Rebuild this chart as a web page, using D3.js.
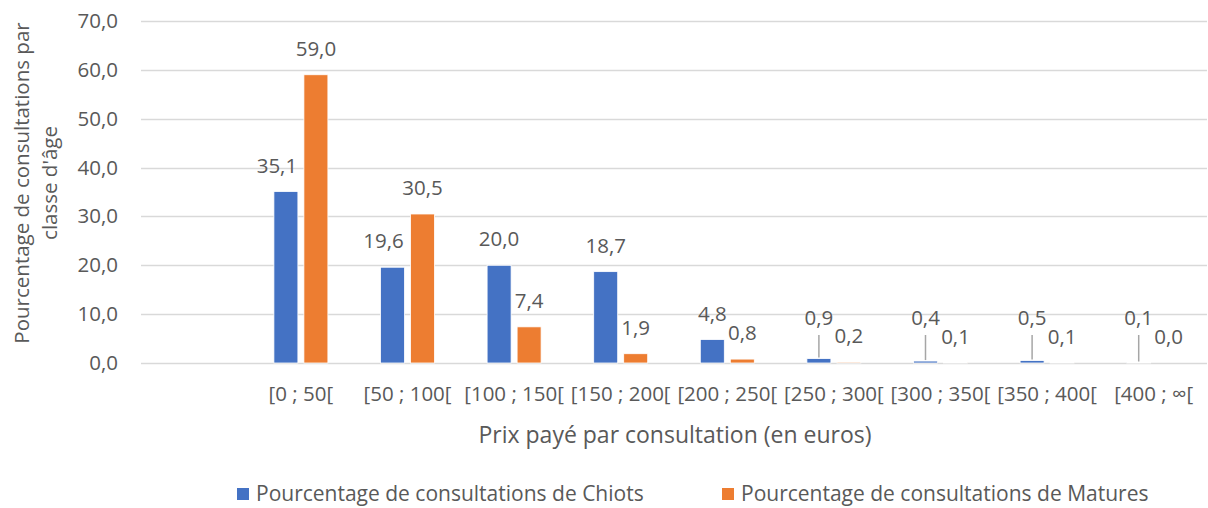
<!DOCTYPE html>
<html>
<head>
<meta charset="utf-8">
<script src="https://cdn.jsdelivr.net/npm/d3@7"></script>
<style>
  html, body { margin: 0; padding: 0; background: #fff; }
  svg text { font-family: "Open Sans", "Noto Sans", sans-serif; fill: #595959; }
</style>
</head>
<body>
<svg id="chart" width="1208" height="508"></svg>
<script>
const categories = ["", "[0 ; 50[", "[50 ; 100[", "[100 ; 150[", "[150 ; 200[", "[200 ; 250[", "[250 ; 300[", "[300 ; 350[", "[350 ; 400[", "[400 ; \u221E["];
const chiots  = [null, 35.1, 19.6, 20.0, 18.7, 4.8, 0.9, 0.4, 0.5, 0.1];
const matures = [null, 59.0, 30.5, 7.4, 1.9, 0.8, 0.2, 0.1, 0.1, 0.0];
const seriesNames = ["Pourcentage de consultations de Chiots", "Pourcentage de consultations de Matures"];
const yTicks = [0, 10, 20, 30, 40, 50, 60, 70];
const colors = ["#4472C4", "#ED7D31"];

const svg = d3.select("#chart");
const fmt = v => d3.format(".1f")(v).replace(".", ",");

const x = d3.scaleBand().domain(categories.map((c, i) => i)).range([141, 1207]).padding(0);
const y = d3.scaleLinear().domain([0, 70]).range([363, 21]);

// gridlines
svg.append("g").selectAll("line").data(yTicks).join("line")
  .attr("x1", 141).attr("x2", 1207)
  .attr("y1", d => Math.round(y(d)) + 0.5).attr("y2", d => Math.round(y(d)) + 0.5)
  .attr("stroke", "#d9d9d9").attr("stroke-width", 1.3);

// y tick labels
svg.append("g").selectAll("text").data(yTicks).join("text")
  .attr("x", 118).attr("y", d => y(d) + 7)
  .attr("text-anchor", "end").attr("font-size", 20.5)
  .text(d => fmt(d));

// category labels
svg.append("g").selectAll("text").data(categories).join("text")
  .attr("x", (d, i) => x(i) + x.bandwidth() / 2).attr("y", 401)
  .attr("text-anchor", "middle").attr("font-size", 20.5)
  .text(d => d);

const series = [chiots, matures];
const groupW = 54;
series.forEach((vals, s) => {
  const pts = vals.map((v, i) => ({ v, i })).filter(d => d.v !== null);
  const xs = d => {
    const cx = x(d.i) + x.bandwidth() / 2;
    const x1 = d3.scaleBand().domain([0, 1]).range([cx - groupW / 2, cx + groupW / 2]).paddingInner(0.2);
    return x1(s);
  };
  const bw = d3.scaleBand().domain([0, 1]).range([0, groupW]).paddingInner(0.2).bandwidth();
  svg.append("g").selectAll("rect").data(pts).join("rect")
    .attr("x", xs).attr("width", bw)
    .attr("y", d => y(d.v)).attr("height", d => y(0) - y(d.v))
    .attr("fill", colors[s]).attr("stroke", "#fff").attr("stroke-width", 0.8);

  const labelY = d => {
    const natural = y(d.v) - 26;
    return s === 0 ? Math.min(natural, y(0) - 45) : natural;
  };
  // chiot labels next to a taller mature bar are nudged left
  const labelX = d => {
    let cx = xs(d) + bw / 2;
    if (s === 0 && matures[d.i] !== null && y(matures[d.i]) < labelY(d) + 8) cx -= 9;
    return cx;
  };
  // leader lines for moved labels
  svg.append("g").selectAll("line").data(pts.filter(d => s === 0 && labelY(d) < y(d.v) - 27)).join("line")
    .attr("x1", d => xs(d) + bw / 2).attr("x2", d => xs(d) + bw / 2)
    .attr("y1", d => labelY(d) + 17).attr("y2", d => y(d.v) - 1)
    .attr("stroke", "#a6a6a6").attr("stroke-width", 1.5);

  svg.append("g").selectAll("text").data(pts).join("text")
    .attr("x", labelX).attr("y", d => labelY(d) + 7)
    .attr("text-anchor", "middle").attr("font-size", 20.5)
    .text(d => fmt(d.v));
});

// axis titles
svg.append("text").attr("x", 675).attr("y", 443).attr("text-anchor", "middle")
  .attr("font-size", 23).text("Prix payé par consultation (en euros)");
const yt = svg.append("text").attr("transform", "translate(0,183) rotate(-90)")
  .attr("text-anchor", "middle").attr("font-size", 20.5);
yt.append("tspan").attr("x", 0).attr("y", 29).text("Pourcentage de consultations par");
yt.append("tspan").attr("x", 0).attr("y", 57).text("classe d'âge");

// legend
const legendX = [237, 722];
seriesNames.forEach((n, s) => {
  svg.append("rect").attr("x", legendX[s]).attr("y", 488).attr("width", 12).attr("height", 12).attr("fill", colors[s]);
  svg.append("text").attr("x", legendX[s] + 19).attr("y", 501).attr("font-size", 21).text(n);
});
</script>
</body>
</html>
